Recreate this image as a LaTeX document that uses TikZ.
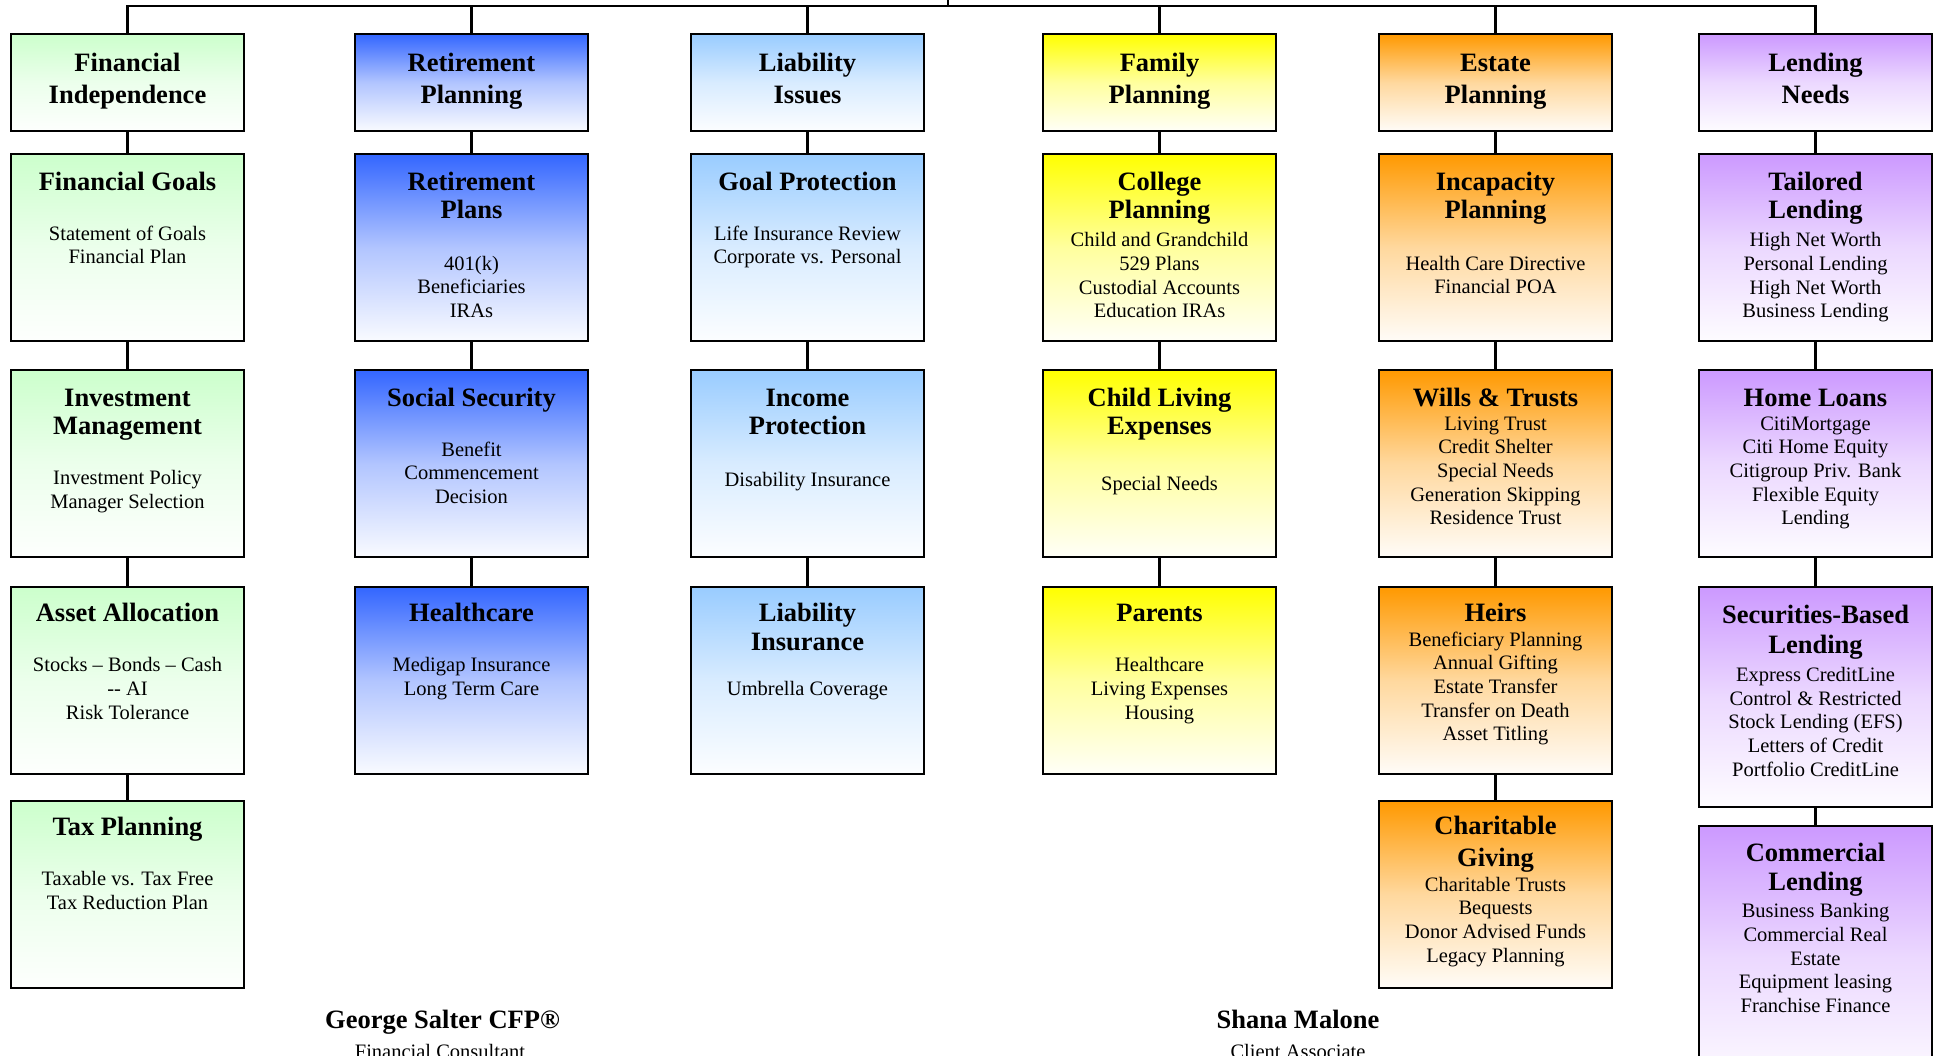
\documentclass[tikz,border=0pt]{standalone}
\usepackage{fontspec}
\setmainfont{Liberation Serif}
\definecolor{cgreen}{HTML}{CCFFCC}
\definecolor{cblue}{HTML}{3366FF}
\definecolor{clblue}{HTML}{99CCFF}
\definecolor{cyellow}{HTML}{FFFF00}
\definecolor{corange}{HTML}{FF9900}
\definecolor{cpurple}{HTML}{CC99FF}
\newcommand\ttl[2][28.3pt]{{\fontsize{26.5pt}{#1}\selectfont\bfseries\strut #2\par}}
\newcommand\bdy[2]{\vspace{#1}{\fontsize{20.5pt}{23.7pt}\selectfont #2\par}}
\newcommand\bxc[3]{\parbox[t][#1][t]{233pt}{\centering\vspace*{#2}#3}}
\tikzset{
  cbox/.style={draw=black, line width=1.5pt, inner sep=0pt, outer sep=0pt,
    anchor=north west, top color=#1, bottom color=white!97!#1, middle color=#1!38!white},
  conn/.style={draw=black, line width=2.4pt},
  nametxt/.style={anchor=base, font=\fontsize{26.5pt}{28pt}\selectfont\bfseries},
  roletxt/.style={anchor=base, font=\fontsize{20.5pt}{23.7pt}\selectfont},
}
\begin{document}
\begin{tikzpicture}[x=1pt,y=-1pt]
\useasboundingbox (0,0) rectangle (1938,1055);
\fill[white] (0,0) rectangle (1938,1055);
\clip (0,0) rectangle (1938,1055);

% headers
\node[cbox=cgreen]  (h1) at (11,34)   {\bxc{97pt}{15.5pt}{\ttl[31.7pt]{Financial\\Independence}}};
\node[cbox=cblue]   (h2) at (355,34)  {\bxc{97pt}{15.5pt}{\ttl[31.7pt]{Retirement\\Planning}}};
\node[cbox=clblue]  (h3) at (691,34)  {\bxc{97pt}{15.5pt}{\ttl[31.7pt]{Liability\\Issues}}};
\node[cbox=cyellow] (h4) at (1043,34) {\bxc{97pt}{15.5pt}{\ttl[31.7pt]{Family\\Planning}}};
\node[cbox=corange] (h5) at (1379,34) {\bxc{97pt}{15.5pt}{\ttl[31.7pt]{Estate\\Planning}}};
\node[cbox=cpurple] (h6) at (1699,34) {\bxc{97pt}{15.5pt}{\ttl[31.7pt]{Lending\\Needs}}};

% column 1
\node[cbox=cgreen] (g1) at (11,154) {\bxc{187pt}{16.2pt}{\ttl{Financial Goals}\bdy{26.3pt}{Statement of Goals\\Financial Plan}}};
\node[cbox=cgreen] (g2) at (11,370) {\bxc{187pt}{16.2pt}{\ttl{Investment\\Management}\bdy{26.3pt}{Investment Policy\\Manager Selection}}};
\node[cbox=cgreen] (g3) at (11,587) {\bxc{187pt}{15pt}{\ttl{Asset Allocation}\bdy{26.3pt}{Stocks -- Bonds -- Cash\\-{}- AI\\Risk Tolerance}}};
\node[cbox=cgreen] (g4) at (11,801) {\bxc{187pt}{14.5pt}{\ttl{Tax Planning}\bdy{26.3pt}{Taxable vs. Tax Free\\Tax Reduction Plan}}};

% column 2
\node[cbox=cblue] (b1) at (355,154) {\bxc{187pt}{16.2pt}{\ttl{Retirement\\Plans}\bdy{28pt}{401(k)\\Beneficiaries\\IRAs}}};
\node[cbox=cblue] (b2) at (355,370) {\bxc{187pt}{16.2pt}{\ttl{Social Security}\bdy{26.3pt}{Benefit\\Commencement\\Decision}}};
\node[cbox=cblue] (b3) at (355,587) {\bxc{187pt}{15pt}{\ttl{Healthcare}\bdy{26.3pt}{Medigap Insurance\\Long Term Care}}};

% column 3
\node[cbox=clblue] (l1) at (691,154) {\bxc{187pt}{16.2pt}{\ttl{Goal Protection}\bdy{26.3pt}{Life Insurance Review\\Corporate vs. Personal}}};
\node[cbox=clblue] (l2) at (691,370) {\bxc{187pt}{16.2pt}{\ttl{Income\\Protection}\bdy{28pt}{Disability Insurance}}};
\node[cbox=clblue] (l3) at (691,587) {\bxc{187pt}{15pt}{\ttl{Liability\\Insurance}\bdy{22pt}{Umbrella Coverage}}};

% column 4
\node[cbox=cyellow] (f1) at (1043,154) {\bxc{187pt}{16.2pt}{\ttl{College\\Planning}\bdy{4.7pt}{Child and Grandchild\\529 Plans\\Custodial Accounts\\Education IRAs}}};
\node[cbox=cyellow] (f2) at (1043,370) {\bxc{187pt}{16.2pt}{\ttl{Child Living\\Expenses}\bdy{32pt}{Special Needs}}};
\node[cbox=cyellow] (f3) at (1043,587) {\bxc{187pt}{15pt}{\ttl{Parents}\bdy{26.3pt}{Healthcare\\Living Expenses\\Housing}}};

% column 5
\node[cbox=corange] (e1) at (1379,154) {\bxc{187pt}{16.2pt}{\ttl{Incapacity\\Planning}\bdy{28pt}{Health Care Directive\\Financial POA}}};
\node[cbox=corange] (e2) at (1379,370) {\bxc{187pt}{16.5pt}{\ttl{Wills \& Trusts}\bdy{0pt}{Living Trust\\Credit Shelter\\Special Needs\\Generation Skipping\\Residence Trust}}};
\node[cbox=corange] (e3) at (1379,587) {\bxc{187pt}{15pt}{\ttl{Heirs}\bdy{0.6pt}{Beneficiary Planning\\Annual Gifting\\Estate Transfer\\Transfer on Death\\Asset Titling}}};
\node[cbox=corange] (e4) at (1379,801) {\bxc{187pt}{11.1pt}{\ttl[31.7pt]{Charitable\\Giving}\bdy{1.3pt}{Charitable Trusts\\Bequests\\Donor Advised Funds\\Legacy Planning}}};

% column 6
\node[cbox=cpurple] (p1) at (1699,154) {\bxc{187pt}{16.2pt}{\ttl{Tailored\\Lending}\bdy{4.7pt}{High Net Worth\\Personal Lending\\High Net Worth\\Business Lending}}};
\node[cbox=cpurple] (p2) at (1699,370) {\bxc{187pt}{16.5pt}{\ttl{Home Loans}\bdy{0pt}{CitiMortgage\\Citi Home Equity\\Citigroup Priv. Bank\\Flexible Equity\\Lending}}};
\node[cbox=cpurple] (p3) at (1699,587) {\bxc{220pt}{15pt}{\ttl[30pt]{Securities-Based\\Lending}\bdy{4.6pt}{Express CreditLine\\Control \& Restricted\\Stock Lending (EFS)\\Letters of Credit\\Portfolio CreditLine}}};
\node[cbox=cpurple] (p4) at (1699,826) {\bxc{262pt}{16pt}{\ttl{Commercial\\Lending}\bdy{4pt}{Business Banking\\Commercial Real\\Estate\\Equipment leasing\\Franchise Finance}}};

% bus
\coordinate (root) at (948,0);
\coordinate (bus) at (948,6);
\draw[conn] (root) -- (bus);
\foreach \h in {h1,h2,h3,h4,h5,h6} \draw[conn] (\h.north) |- (bus);

% vertical connectors
\draw[conn] (h1.south) -- (g1.north);
\draw[conn] (g1.south) -- (g2.north);
\draw[conn] (g2.south) -- (g3.north);
\draw[conn] (g3.south) -- (g4.north);
\draw[conn] (h2.south) -- (b1.north);
\draw[conn] (b1.south) -- (b2.north);
\draw[conn] (b2.south) -- (b3.north);
\draw[conn] (h3.south) -- (l1.north);
\draw[conn] (l1.south) -- (l2.north);
\draw[conn] (l2.south) -- (l3.north);
\draw[conn] (h4.south) -- (f1.north);
\draw[conn] (f1.south) -- (f2.north);
\draw[conn] (f2.south) -- (f3.north);
\draw[conn] (h5.south) -- (e1.north);
\draw[conn] (e1.south) -- (e2.north);
\draw[conn] (e2.south) -- (e3.north);
\draw[conn] (e3.south) -- (e4.north);
\draw[conn] (h6.south) -- (p1.north);
\draw[conn] (p1.south) -- (p2.north);
\draw[conn] (p2.south) -- (p3.north);
\draw[conn] (p3.south) -- (p4.north);

% names
\node[nametxt] (gs) at (442.5,1028.3) {George Salter CFP®};
\node[roletxt] (gsr) at (440,1058.3) {Financial Consultant};
\node[nametxt] (sm) at (1298,1028.3) {Shana Malone};
\node[roletxt] (smr) at (1298,1058.3) {Client Associate};
\end{tikzpicture}
\end{document}
